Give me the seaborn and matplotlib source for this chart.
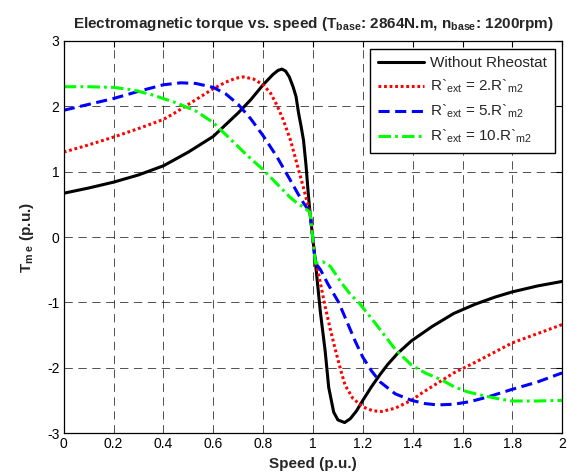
import numpy as np
import pandas as pd
import matplotlib
matplotlib.use("Agg")
import matplotlib.pyplot as plt
import seaborn as sns

sns.set_style("white")
plt.rcParams['font.family'] = ['Liberation Sans', 'DejaVu Sans']
plt.rcParams['mathtext.fontset'] = 'custom'
plt.rcParams['mathtext.rm'] = 'Liberation Sans'
plt.rcParams['mathtext.bf'] = 'Liberation Sans:bold'
plt.rcParams['mathtext.it'] = 'Liberation Sans'
plt.rcParams['lines.scale_dashes'] = False

# ---- data ----
x_black = [0.0, 0.1, 0.2, 0.3, 0.4, 0.5, 0.6, 0.7, 0.75, 0.8, 0.84, 0.86, 0.875, 0.89,
           0.905, 0.92, 0.932, 0.942, 0.952, 0.962, 0.972, 0.982, 0.988,
           1.01, 1.03, 1.049, 1.063, 1.083, 1.10, 1.127, 1.15, 1.175, 1.2, 1.235, 1.27,
           1.30, 1.34, 1.395, 1.478, 1.565, 1.65, 1.73, 1.8, 1.9, 2.0]
y_black = [0.67, 0.75, 0.84, 0.95, 1.09, 1.30, 1.54, 1.90, 2.10, 2.33, 2.49, 2.55, 2.57, 2.54,
           2.45, 2.30, 2.15, 1.90, 1.70, 1.48, 1.10, 0.62, 0.38,
           -0.40, -1.16, -1.75, -2.30, -2.68, -2.80, -2.84, -2.78, -2.66, -2.50, -2.29, -2.10,
           -1.95, -1.78, -1.59, -1.37, -1.17, -1.03, -0.92, -0.84, -0.75, -0.68]

x_red = [0.0, 0.1, 0.2, 0.3, 0.4, 0.45, 0.5, 0.55, 0.6, 0.65, 0.69, 0.72, 0.76, 0.8, 0.83,
         0.855, 0.88, 0.909, 0.925, 0.942, 0.96, 0.975, 0.988,
         1.01, 1.022, 1.049, 1.07, 1.09, 1.11, 1.129, 1.16, 1.2, 1.24, 1.277, 1.33, 1.395,
         1.44, 1.49, 1.565, 1.65, 1.73, 1.8, 1.9, 2.0]
y_red = [1.30, 1.41, 1.53, 1.66, 1.80, 1.91, 2.03, 2.15, 2.27, 2.37, 2.43, 2.45, 2.42, 2.33, 2.20,
         2.02, 1.80, 1.49, 1.27, 1.03, 0.78, 0.56, 0.38,
         -0.40, -0.56, -1.07, -1.42, -1.73, -2.02, -2.27, -2.47, -2.60, -2.66, -2.67, -2.62, -2.50,
         -2.38, -2.26, -2.08, -1.92, -1.76, -1.62, -1.48, -1.34]

x_blue = [0.0, 0.1, 0.2, 0.3, 0.4, 0.47, 0.53, 0.6, 0.65, 0.7, 0.75, 0.8, 0.855, 0.909, 0.94,
          0.962, 0.988,
          1.01, 1.03, 1.06, 1.103, 1.14, 1.17, 1.2, 1.235, 1.27, 1.33, 1.395, 1.45, 1.5,
          1.565, 1.63, 1.7, 1.792, 1.9, 2.0]
y_blue = [1.94, 2.03, 2.12, 2.23, 2.33, 2.36, 2.35, 2.29, 2.19, 2.03, 1.81, 1.55, 1.23, 0.87, 0.66,
          0.52, 0.38,
          -0.40, -0.50, -0.72, -1.00, -1.33, -1.60, -1.84, -2.05, -2.22, -2.40, -2.50, -2.55, -2.57,
          -2.56, -2.52, -2.45, -2.34, -2.22, -2.08]

x_green = [0.0, 0.1, 0.2, 0.28, 0.36, 0.454, 0.534, 0.6, 0.668, 0.73, 0.8, 0.869, 0.91, 0.936,
           0.96, 0.988,
           1.01, 1.04, 1.07, 1.11, 1.15, 1.183, 1.25, 1.29, 1.33, 1.395, 1.45, 1.518, 1.565,
           1.62, 1.685, 1.75, 1.8, 1.9, 2.0]
y_green = [2.30, 2.30, 2.29, 2.25, 2.17, 2.05, 1.92, 1.75, 1.50, 1.27, 1.03, 0.76, 0.60, 0.52,
           0.46, 0.38,
           -0.40, -0.38, -0.45, -0.68, -0.88, -1.00, -1.32, -1.52, -1.72, -1.96, -2.08, -2.19, -2.29,
           -2.37, -2.43, -2.48, -2.51, -2.51, -2.50]

labels = ["Without Rheostat",
          r"R`$_{ext}$ = 2.R`$_{m2}$",
          r"R`$_{ext}$ = 5.R`$_{m2}$",
          r"R`$_{ext}$ = 10.R`$_{m2}$"]
colors = ["black", "#ff0000", "#0000ff", "#00ff00"]
dash_patterns = [None, (2.0, 2.0), (8.0, 4.0), (9.0, 3.0, 2.0, 3.0)]

series = [(x_black, y_black), (x_red, y_red), (x_blue, y_blue), (x_green, y_green)]

fig = plt.figure(figsize=(5.67, 4.75), dpi=100)
ax = fig.add_axes([0.1125, 0.0884, 0.879, 0.8253])

for (xs, ys), lab, col, dp in zip(series, labels, colors, dash_patterns):
    df = pd.DataFrame({"x": xs, "y": ys})
    sns.lineplot(data=df, x="x", y="y", ax=ax, color=col, linewidth=2.2, label=lab,
                 sort=False, estimator=None)
    line = ax.lines[-1]
    line.set_solid_joinstyle('round')
    line.set_dash_joinstyle('round')
    if dp is not None:
        line.set_dashes(dp)
        line.set_dash_capstyle('butt')

ax.set_xlim(0, 2)
ax.set_ylim(-3, 3)
ax.set_xticks(np.arange(0, 2.01, 0.2))
ax.set_xticklabels(["0", "0.2", "0.4", "0.6", "0.8", "1", "1.2", "1.4", "1.6", "1.8", "2"])
ax.set_yticks(np.arange(-3, 3.01, 1))
ax.set_yticklabels(["-3", "-2", "-1", "0", "1", "2", "3"])
ax.tick_params(direction="in", length=4, width=0.8, top=True, right=True,
               labelsize=10, colors="black", pad=3)
ax.grid(True, color="black", linestyle=(0, (6, 4)), linewidth=0.6, alpha=0.8)
for s in ax.spines.values():
    s.set_color("black")
    s.set_linewidth(0.9)

ax.set_xlabel("Speed (p.u.)", fontsize=11, fontweight="bold", labelpad=4)
ax.set_ylabel(r"$\mathbf{T_{m\ e}}$ (p.u.)", fontsize=11, fontweight="bold", labelpad=8)
ax.set_title(r"Electromagnetic torque vs. speed (T$_{\mathbf{base}}$: 2864N.m, n$_{\mathbf{base}}$: 1200rpm)",
             fontsize=11, fontweight="bold", pad=9)

leg = ax.legend(loc="upper right", fontsize=11, frameon=True, fancybox=False,
                handlelength=3.0, borderaxespad=0.5, labelspacing=0.5, borderpad=0.5,
                handletextpad=0.4)
leg.get_frame().set_edgecolor("black")
leg.get_frame().set_linewidth(1.0)
leg.get_frame().set_alpha(1)

fig.savefig("out.png", dpi=100)
